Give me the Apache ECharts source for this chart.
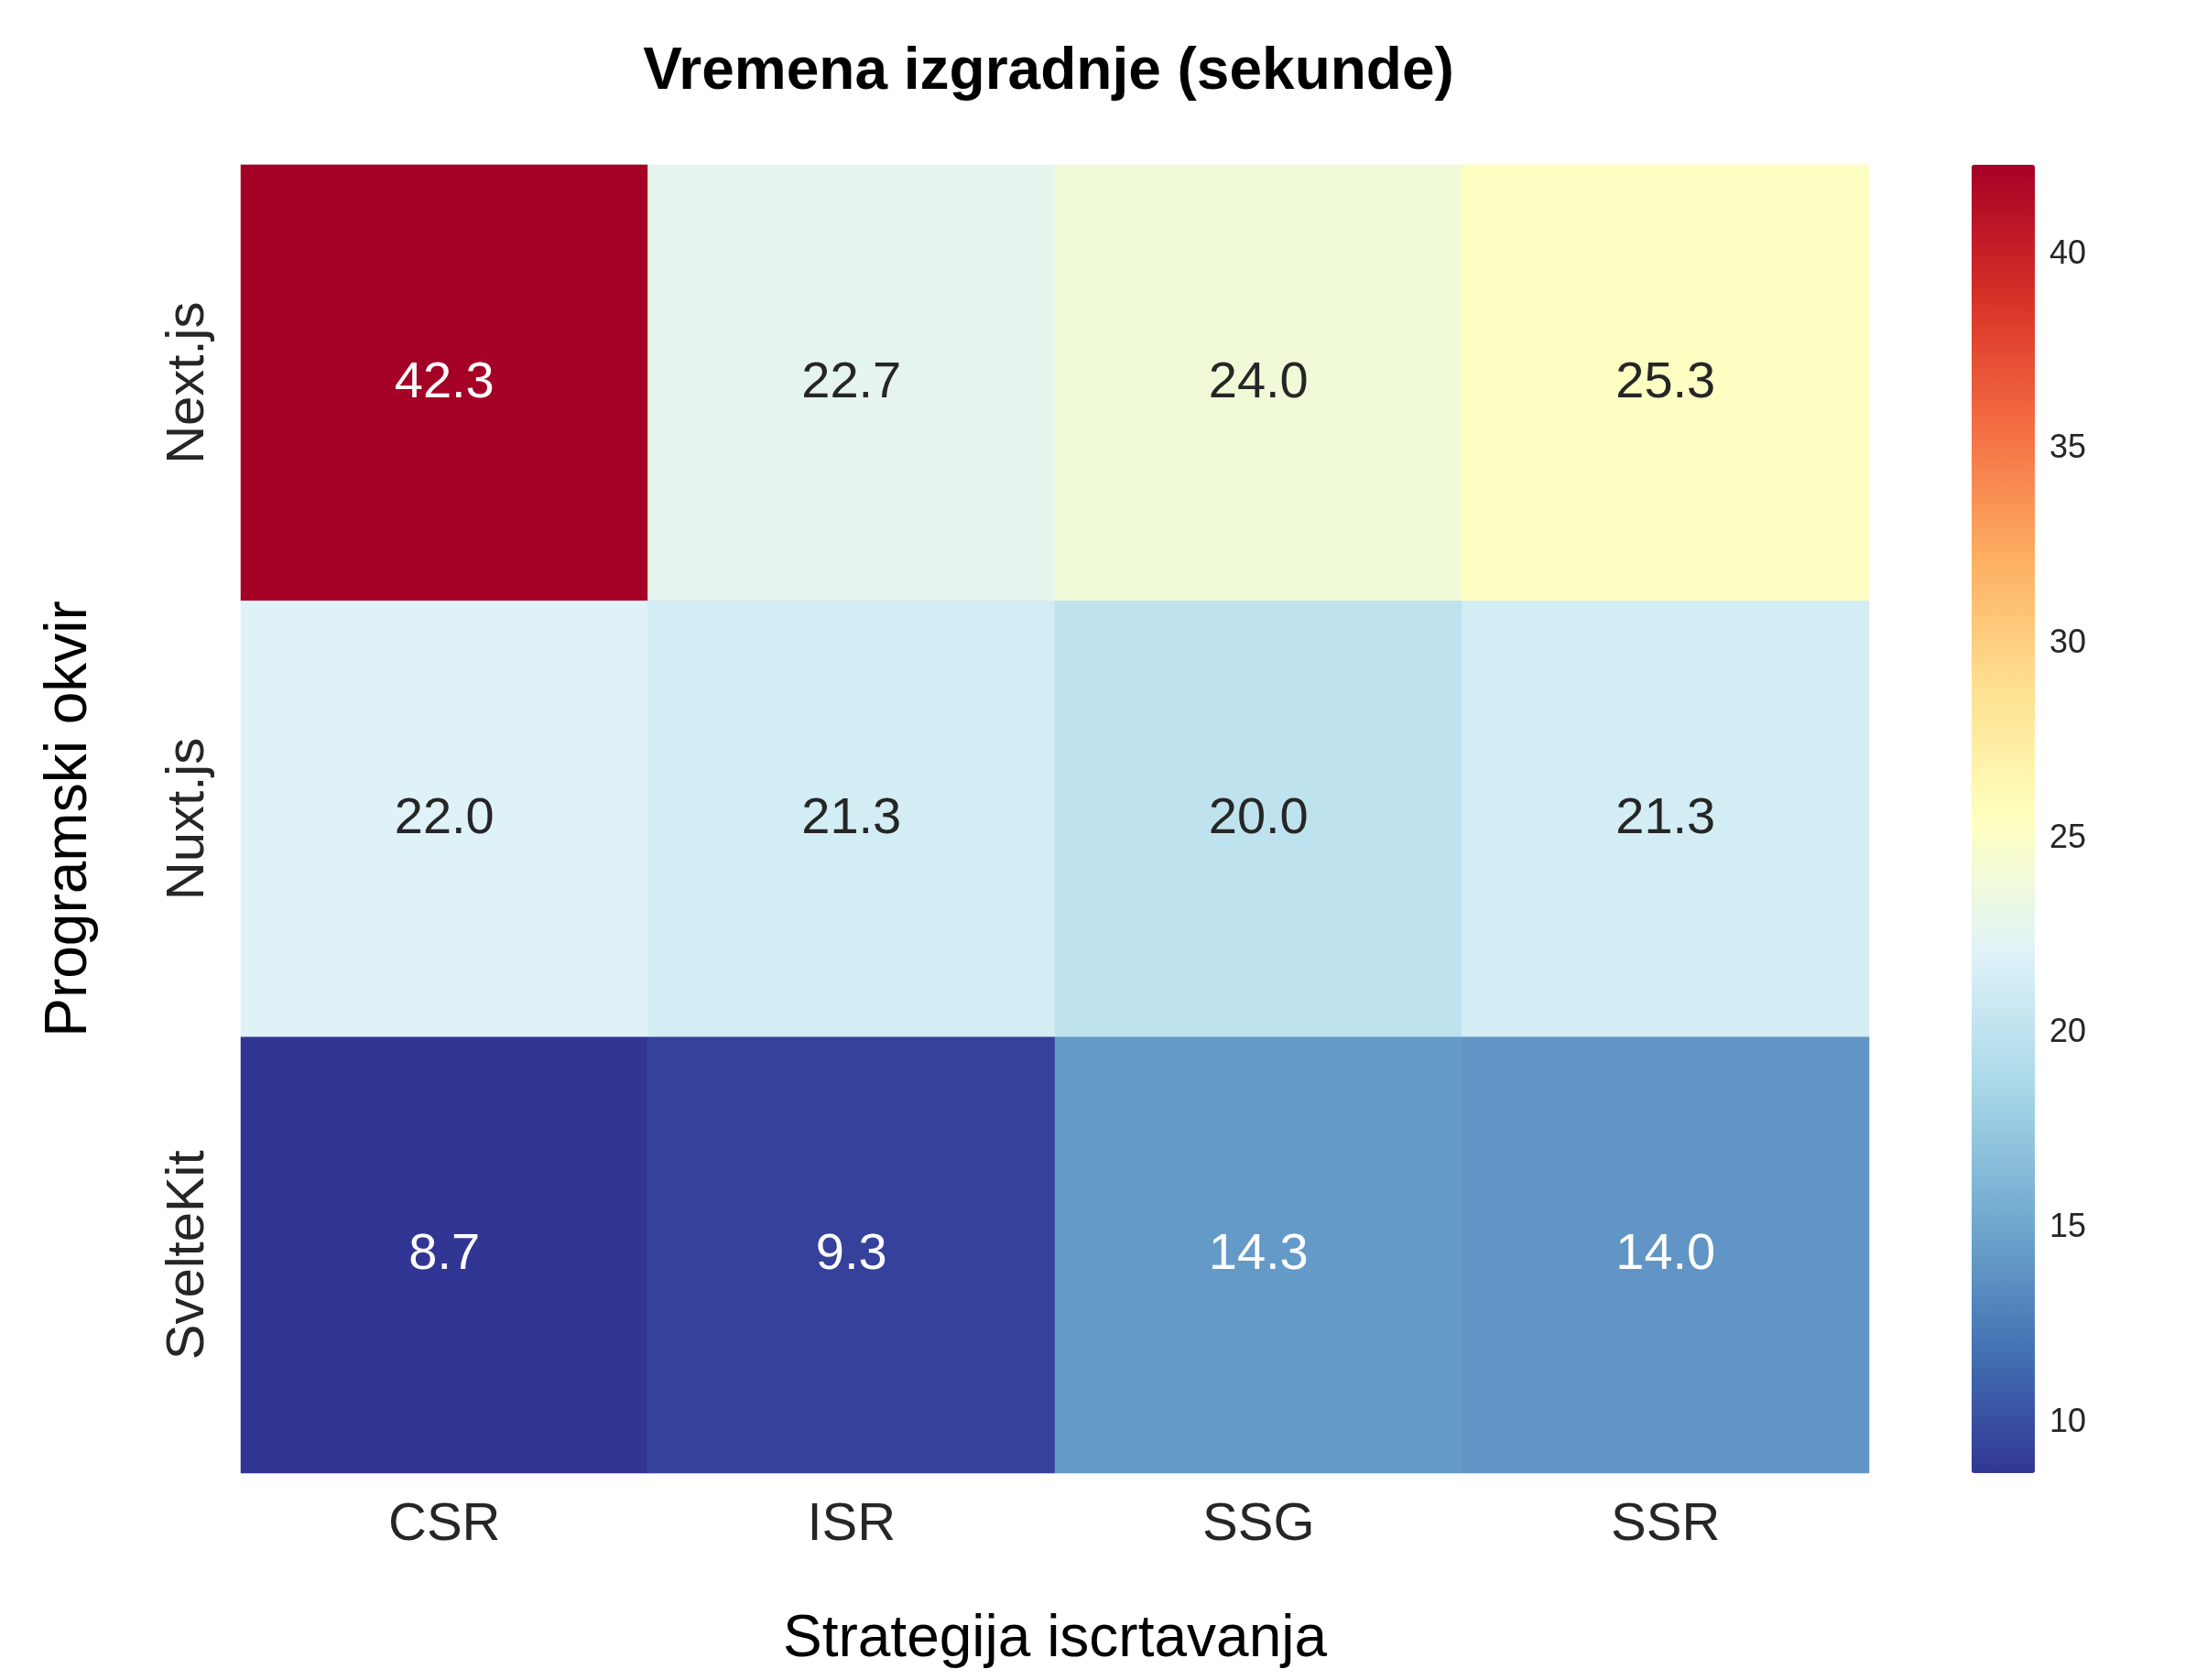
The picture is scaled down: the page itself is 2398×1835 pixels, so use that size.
<!DOCTYPE html>
<html>
<head>
<meta charset="UTF-8">
<script src="https://cdn.jsdelivr.net/npm/echarts@6/dist/echarts.min.js"></script>
<style>html,body{margin:0;background:#fff}</style>
</head>
<body>
<div id="main" style="width:2398px;height:1835px"></div>
<script>
// podaci
var strategije = ['CSR', 'ISR', 'SSG', 'SSR'];
var okviri = ['Next.js', 'Nuxt.js', 'SvelteKit'];
var vrijednosti = [
    [42.3, 22.7, 24.0, 25.3],
    [22.0, 21.3, 20.0, 21.3],
    [8.7, 9.3, 14.3, 14.0]
];
var cbTicks = [10, 15, 20, 25, 30, 35, 40];
var vMin = 8.7, vMax = 42.3;

var font = 'Liberation Sans, Arial, sans-serif';
var data = [];
for (var r = 0; r < okviri.length; r++) {
    for (var c = 0; c < strategije.length; c++) {
        var v = vrijednosti[r][c];
        data.push({
            value: [c, r, v],
            label: {color: (v > 35 || v < 16) ? '#ffffff' : '#262626'}
        });
    }
}

var myChart = echarts.init(document.getElementById('main'));
var option = {
    backgroundColor: '#fff',
    animation: false,
    title: {
        text: 'Vremena izgradnje (sekunde)',
        left: 1140, top: 42, textAlign: 'center',
        textStyle: {fontFamily: font, fontSize: 64, fontWeight: 'bold', color: '#000'}
    },
    grid: [
        {left: 263, top: 180, width: 1778, height: 1429},
        {left: 2153, top: 180, width: 69, height: 1429}
    ],
    xAxis: [{
        type: 'category', data: strategije, gridIndex: 0,
        name: 'Strategija iscrtavanja', nameLocation: 'middle', nameGap: 150,
        nameTextStyle: {fontFamily: font, fontSize: 64, color: '#000'},
        axisLine: {show: false}, axisTick: {show: false}, splitLine: {show: false},
        axisLabel: {fontFamily: font, fontSize: 58, color: '#262626', margin: 28}
    }, {
        type: 'value', gridIndex: 1, show: false
    }],
    yAxis: [{
        type: 'category', data: okviri, gridIndex: 0, inverse: true,
        name: 'Programski okvir', nameLocation: 'middle', nameGap: 155,
        nameTextStyle: {fontFamily: font, fontSize: 64, color: '#000'},
        axisLine: {show: false}, axisTick: {show: false}, splitLine: {show: false},
        axisLabel: {fontFamily: font, fontSize: 58, color: '#262626', rotate: 90, margin: 28}
    }, {
        type: 'value', gridIndex: 1, position: 'right', min: vMin, max: vMax,
        axisLine: {show: false}, splitLine: {show: false},
        axisTick: {show: true, customValues: cbTicks, length: 6, lineStyle: {color: '#262626'}},
        axisLabel: {customValues: cbTicks, fontFamily: font, fontSize: 36, color: '#262626', margin: 16}
    }],
    visualMap: {
        type: 'continuous', min: vMin, max: vMax, seriesIndex: 0,
        left: 2153, top: 180, itemWidth: 69, itemHeight: 1429, padding: 0,
        calculable: false, text: ['', ''], showLabel: false,
        inRange: {color: ['#313695', '#4575b4', '#74add1', '#abd9e9', '#e0f3f8', '#ffffbf',
            '#fee090', '#fdae61', '#f46d43', '#d73027', '#a50026']}
    },
    series: [{
        type: 'heatmap', xAxisIndex: 0, yAxisIndex: 0, data: data,
        label: {show: true, fontFamily: font, fontSize: 56,
            formatter: function (p) { return p.value[2].toFixed(1); }}
    }, {
        type: 'line', xAxisIndex: 1, yAxisIndex: 1, data: [], silent: true
    }]
};
myChart.setOption(option);
</script>
</body>
</html>
